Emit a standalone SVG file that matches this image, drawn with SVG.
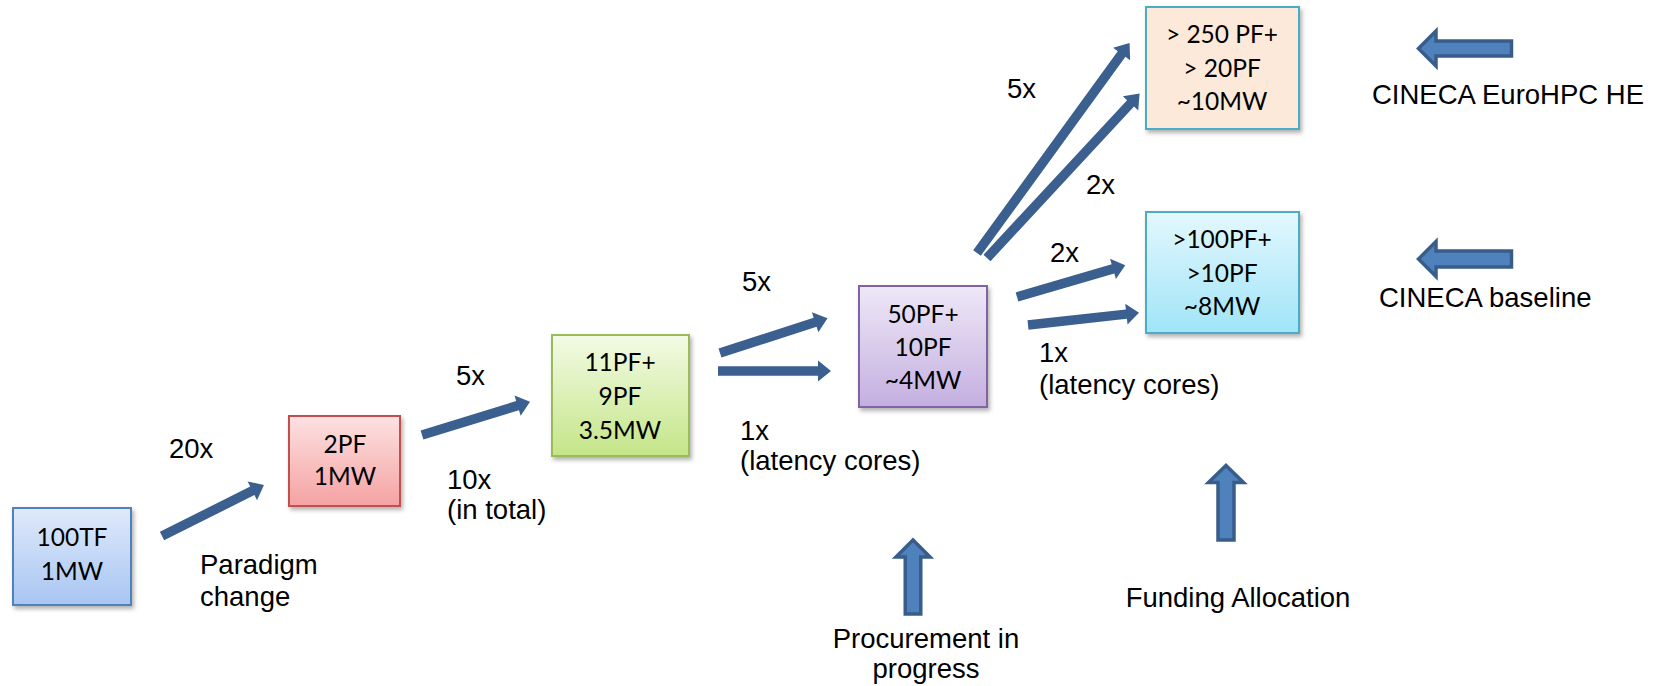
<svg xmlns="http://www.w3.org/2000/svg" width="1666" height="686" viewBox="0 0 1666 686">
<defs>
<linearGradient id="gBlue" x1="0" y1="0" x2="0" y2="1"><stop offset="0" stop-color="#dfeafb"/><stop offset="1" stop-color="#a8c5f2"/></linearGradient>
<linearGradient id="gRed" x1="0" y1="0" x2="0" y2="1"><stop offset="0" stop-color="#fde1e1"/><stop offset="1" stop-color="#f5a2a2"/></linearGradient>
<linearGradient id="gGreen" x1="0" y1="0" x2="0" y2="1"><stop offset="0" stop-color="#f3fbe5"/><stop offset="1" stop-color="#c4e588"/></linearGradient>
<linearGradient id="gPurple" x1="0" y1="0" x2="0" y2="1"><stop offset="0" stop-color="#eee8f7"/><stop offset="1" stop-color="#c4afe0"/></linearGradient>
<linearGradient id="gCyan" x1="0" y1="0" x2="0" y2="1"><stop offset="0" stop-color="#e3f8fe"/><stop offset="1" stop-color="#a0e4f8"/></linearGradient>
<filter id="sh" x="-10%" y="-10%" width="130%" height="130%"><feDropShadow dx="2" dy="3" stdDeviation="2" flood-color="#000" flood-opacity="0.3"/></filter>
</defs>
<style>
.box{stroke-width:2;filter:url(#sh)}
.bt{font-family:Lato,"Open Sans","Liberation Sans",sans-serif;font-size:24.5px;fill:#000;text-anchor:middle}
.lb{font-family:"Liberation Sans",Arial,sans-serif;font-size:27.5px;fill:#000}
.ar{fill:#3b5f8e}
.fat{fill:#4f81bd;stroke:#385d8a;stroke-width:3.5;stroke-linejoin:miter}
</style>
<rect width="1666" height="686" fill="#fff"/>

<g id="n100TF">
<rect class="box" x="13" y="508" width="118" height="97" fill="url(#gBlue)" stroke="#4f81bd"/>
<text class="bt" x="72" y="546">100TF</text>
<text class="bt" x="72" y="580">1MW</text>
</g>
<g id="n2PF">
<rect class="box" x="289" y="416" width="111" height="90" fill="url(#gRed)" stroke="#c0504d"/>
<text class="bt" x="345" y="453">2PF</text>
<text class="bt" x="345" y="485">1MW</text>
</g>
<g id="n11PF">
<rect class="box" x="552" y="335" width="137" height="121" fill="url(#gGreen)" stroke="#9bbb59"/>
<text class="bt" x="620" y="371">11PF+</text>
<text class="bt" x="620" y="405">9PF</text>
<text class="bt" x="620" y="439">3.5MW</text>
</g>
<g id="n50PF">
<rect class="box" x="859" y="286" width="128" height="121" fill="url(#gPurple)" stroke="#8064a2"/>
<text class="bt" x="923" y="323">50PF+</text>
<text class="bt" x="923" y="356">10PF</text>
<text class="bt" x="923" y="389">~4MW</text>
</g>
<g id="n250PF">
<rect class="box" x="1146" y="7" width="153" height="122" fill="#fde9d9" stroke="#4bacc6"/>
<text class="bt" x="1222" y="43">&gt; 250 PF+</text>
<text class="bt" x="1222" y="77">&gt; 20PF</text>
<text class="bt" x="1222" y="110">~10MW</text>
</g>
<g id="n100PF">
<rect class="box" x="1146" y="212" width="153" height="121" fill="url(#gCyan)" stroke="#4bacc6"/>
<text class="bt" x="1222" y="248">&gt;100PF+</text>
<text class="bt" x="1222" y="282">&gt;10PF</text>
<text class="bt" x="1222" y="315">~8MW</text>
</g>

<g id="connectors">
<path class="ar" transform="translate(162,536) rotate(-26.57)" d="M0,-4.75H101V-10.5L114,0L101,10.5V4.75H0Z"/>
<path class="ar" transform="translate(422,435) rotate(-17.09)" d="M0,-4.75H100V-10.5L113,0L100,10.5V4.75H0Z"/>
<path class="ar" transform="translate(720,353) rotate(-17.96)" d="M0,-4.75H100V-10.5L113,0L100,10.5V4.75H0Z"/>
<path class="ar" transform="translate(718,371)" d="M0,-4.75H100V-10.5L113,0L100,10.5V4.75H0Z"/>
<path class="ar" transform="translate(977,253) rotate(-54.0)" d="M0,-4.75H246V-10.5L259.6,0L246,10.5V4.75H0Z"/>
<path class="ar" transform="translate(987,258) rotate(-47.13)" d="M0,-4.75H211V-10.5L224.3,0L211,10.5V4.75H0Z"/>
<path class="ar" transform="translate(1017,297) rotate(-16.31)" d="M0,-4.75H100V-10.5L112.8,0L100,10.5V4.75H0Z"/>
<path class="ar" transform="translate(1028,325) rotate(-6.32)" d="M0,-4.75H99V-10.5L111.7,0L99,10.5V4.75H0Z"/>
</g>

<g id="labels">
<text class="lb" x="169" y="458">20x</text>
<text class="lb" x="200" y="574">Paradigm</text>
<text class="lb" x="200" y="606">change</text>
<text class="lb" x="456" y="385">5x</text>
<text class="lb" x="447" y="489">10x</text>
<text class="lb" x="447" y="519">(in total)</text>
<text class="lb" x="742" y="291">5x</text>
<text class="lb" x="740" y="440">1x</text>
<text class="lb" x="740" y="470">(latency cores)</text>
<text class="lb" x="1007" y="98">5x</text>
<text class="lb" x="1086" y="194">2x</text>
<text class="lb" x="1050" y="262">2x</text>
<text class="lb" x="1039" y="362">1x</text>
<text class="lb" x="1039" y="394">(latency cores)</text>
<text class="lb" x="1372" y="104">CINECA EuroHPC HE</text>
<text class="lb" x="1379" y="307">CINECA baseline</text>
<text class="lb" x="926" y="648" text-anchor="middle">Procurement in</text>
<text class="lb" x="926" y="678" text-anchor="middle">progress</text>
<text class="lb" x="1238" y="607" text-anchor="middle">Funding Allocation</text>
</g>

<g id="indicators">
<polygon class="fat" points="913,540 930,557 920.75,557 920.75,614 905.25,614 905.25,557 896,557"/>
<polygon class="fat" points="1226,465.5 1243.5,482.5 1234,482.5 1234,540 1218,540 1218,482.5 1208.5,482.5"/>
<polygon class="fat" points="1418.5,48.5 1436,31 1436,41 1511.5,41 1511.5,56 1436,56 1436,66"/>
<polygon class="fat" points="1418.5,259 1436,241.5 1436,251 1511.5,251 1511.5,267 1436,267 1436,276.5"/>
</g>
</svg>
